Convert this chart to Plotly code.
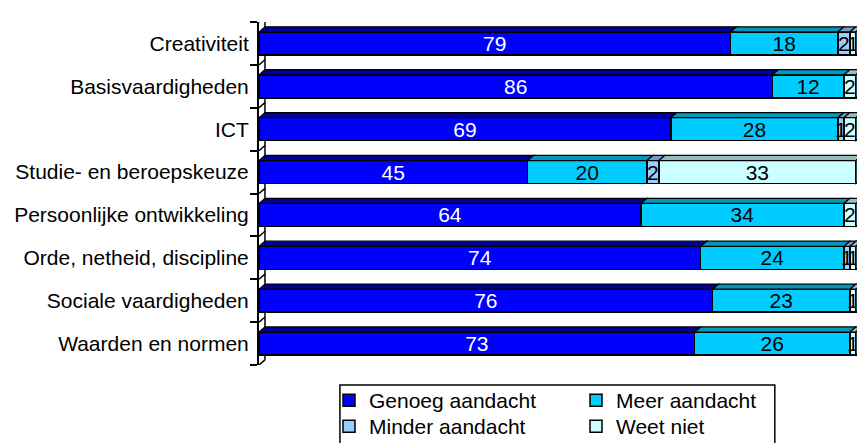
import plotly.graph_objects as go

categories = ["Creativiteit", "Basisvaardigheden", "ICT", "Studie- en beroepskeuze",
              "Persoonlijke ontwikkeling", "Orde, netheid, discipline",
              "Sociale vaardigheden", "Waarden en normen"]
series_names = ["Genoeg aandacht", "Meer aandacht", "Minder aandacht", "Weet niet"]
genoeg = [79, 86, 69, 45, 64, 74, 76, 73]
meer = [18, 12, 28, 20, 34, 24, 23, 26]
minder = [2, 0, 1, 2, 0, 1, 0, 0]
weet_niet = [1, 2, 2, 33, 2, 1, 1, 1]

series = [genoeg, meer, minder, weet_niet]
colors = ["#0000FF", "#00CCFF", "#99CCFF", "#CCFFFF"]
top_colors = ["#000099", "#0099BB", "#7799CC", "#99BBBB"]
text_colors = ["white", "black", "black", "black"]
legend_ids = ["legend", "legend", "legend2", "legend2"]
side_color = "#5F7F7F"

FONT = "Liberation Sans, Arial, sans-serif"
FS = 21
ypos = list(range(len(categories)))
bw = 0.535

fig = go.Figure()
for name, vals, col, tc, lg in zip(series_names, series, colors, text_colors, legend_ids):
    fig.add_trace(go.Bar(
        y=ypos, x=vals, name=name, orientation="h", width=bw,
        marker=dict(color=col, line=dict(color="black", width=1.5)),
        text=[str(v) if v > 0 else "" for v in vals],
        textposition="inside", insidetextanchor="middle",
        constraintext="none",
        textfont=dict(color=tc, size=FS, family=FONT),
        hoverinfo="skip", legend=lg,
    ))

# pseudo-3D faces derived from the data
dx, dy = 1.0, -0.12
shapes = []
for i in ypos:
    start = 0
    ytop = i - bw / 2
    ybot = i + bw / 2
    last_end = 0
    for s, vals in enumerate(series):
        v = vals[i]
        if v <= 0:
            continue
        x0, x1 = start, start + v
        shapes.append(dict(
            type="path", xref="x", yref="y",
            path=f"M {x0} {ytop} L {x0+dx} {ytop+dy} L {x1+dx} {ytop+dy} L {x1} {ytop} Z",
            fillcolor=top_colors[s], line=dict(color="black", width=1.2), layer="above"))
        start = x1
        last_end = x1
    shapes.append(dict(
        type="path", xref="x", yref="y",
        path=f"M {last_end} {ytop} L {last_end+dx} {ytop+dy} L {last_end+dx} {ybot+dy} L {last_end} {ybot} Z",
        fillcolor=side_color, line=dict(color="black", width=1.2), layer="above"))

# back wall lines of the category axis
nb = len(categories)
for b in range(nb + 1):
    yb = b - 0.5
    shapes.append(dict(type="line", xref="x", yref="y", x0=0, y0=yb, x1=dx, y1=yb + dy,
                       line=dict(color="black", width=1.5), layer="below"))
shapes.append(dict(type="line", xref="x", yref="y", x0=dx, y0=-0.5 + dy, x1=dx, y1=nb - 0.5 + dy,
                   line=dict(color="black", width=1.5), layer="below"))

# legend frame (extends below the visible page like the original)
shapes.append(dict(type="rect", xref="paper", yref="paper", x0=0.134, x1=0.854,
                   y0=-0.40, y1=-0.058, line=dict(color="black", width=1.5),
                   fillcolor="rgba(0,0,0,0)", layer="above"))

legend_common = dict(
    orientation="h", xref="container", yref="container",
    xanchor="left", yanchor="top",
    traceorder="normal", entrywidth=202, entrywidthmode="pixels",
    borderwidth=0, bgcolor="rgba(0,0,0,0)",
    font=dict(size=FS, family=FONT), itemwidth=30,
)

fig.update_layout(
    barmode="stack",
    width=857, height=435,
    margin=dict(l=251, r=2, t=14, b=78),
    paper_bgcolor="white", plot_bgcolor="white",
    font=dict(family=FONT, size=FS, color="black"),
    shapes=shapes,
    showlegend=True,
    legend=dict(legend_common, x=321 / 857, y=1 - 372 / 435),
    legend2=dict(legend_common, x=321 / 857, y=1 - 398 / 435),
    xaxis=dict(range=[0, 101.2], showgrid=False, zeroline=False,
               showticklabels=False, ticks="", showline=False),
    yaxis=dict(range=[7.5, -0.5], tickvals=ypos, ticktext=categories,
               ticks="", showgrid=False, zeroline=False,
               showline=True, linecolor="black", linewidth=2,
               ticklabelstandoff=4,
               minor=dict(tickmode="linear", tick0=0.5, dtick=1, ticks="outside",
                          ticklen=7, tickwidth=2, tickcolor="black"),
               tickfont=dict(size=FS, family=FONT)),
)

fig.write_html("out.html")
